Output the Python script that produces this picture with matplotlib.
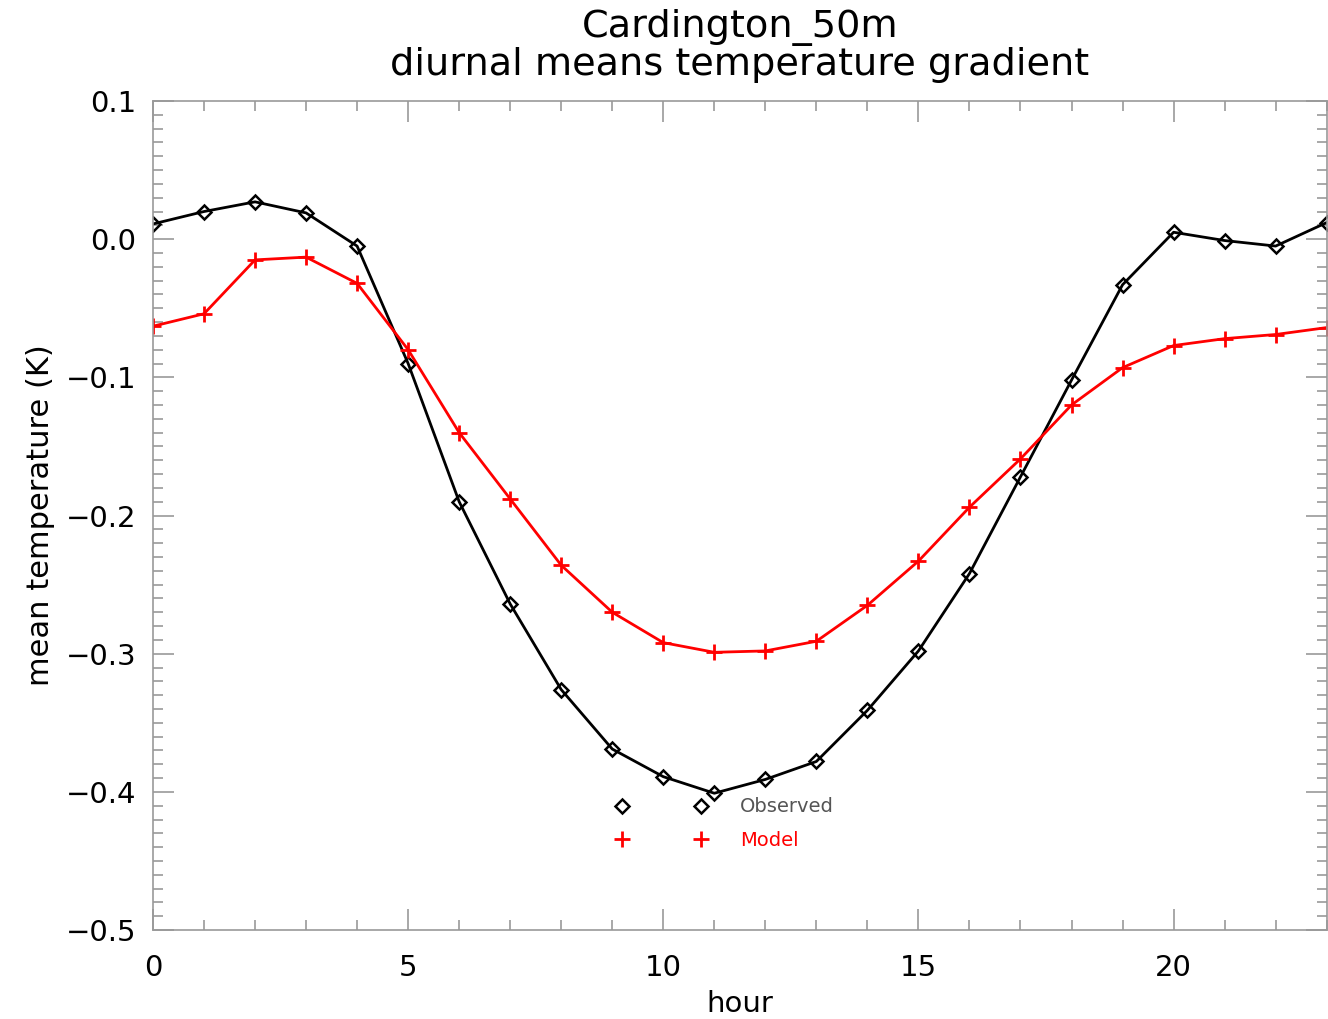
import matplotlib
matplotlib.use('Agg')
import matplotlib.pyplot as plt
from matplotlib.lines import Line2D
from matplotlib.ticker import MultipleLocator

hours = list(range(24))
observed = [0.011, 0.020, 0.027, 0.019, -0.005, -0.090, -0.190, -0.264, -0.326, -0.369,
            -0.389, -0.401, -0.391, -0.378, -0.341, -0.298, -0.242, -0.172, -0.102, -0.033,
            0.005, -0.001, -0.005, 0.012]
model = [-0.063, -0.054, -0.015, -0.013, -0.032, -0.080, -0.140, -0.188, -0.236, -0.270,
         -0.292, -0.299, -0.298, -0.291, -0.265, -0.233, -0.194, -0.159, -0.120, -0.093,
         -0.077, -0.072, -0.069, -0.064]
ytick_vals = [0.1, 0.0, -0.1, -0.2, -0.3, -0.4, -0.5]
ytick_text = ['0.1', '0.0', '\u22120.1', '\u22120.2', '\u22120.3', '\u22120.4', '\u22120.5']

plt.rcParams['font.family'] = ['DejaVu Sans']

fig = plt.figure(figsize=(13.28, 10.19), dpi=100)
ax = fig.add_axes([0.1152, 0.0873, 0.8838, 0.8136])

ax.plot(hours, observed, color='black', lw=2, marker='D', ms=7, mfc='none', mew=1.8)
ax.plot(hours, model, color='red', lw=2, marker='+', ms=11, mew=2)

ax.set_xlim(0, 23)
ax.set_ylim(-0.5, 0.1)
ax.xaxis.set_major_locator(MultipleLocator(5))
ax.xaxis.set_minor_locator(MultipleLocator(1))
ax.yaxis.set_minor_locator(MultipleLocator(0.01))
ax.set_yticks(ytick_vals)
ax.set_yticklabels(ytick_text)

ax.tick_params(which='both', direction='in', top=True, right=True, color='#999999',
               labelsize=21)
ax.tick_params(axis='x', pad=17)
ax.tick_params(axis='y', pad=12)
ax.tick_params(which='major', length=15, width=1.2)
ax.tick_params(which='minor', length=7, width=1.2)
for s in ax.spines.values():
    s.set_color('#999999')
    s.set_linewidth(1.2)

ax.set_xlabel('hour', fontsize=21, labelpad=6)
ax.set_ylabel('mean temperature (K)', fontsize=22, labelpad=8)
ax.set_title('Cardington_50m\ndiurnal means temperature gradient', fontsize=27.5,
             pad=18.5, linespacing=1.03)

handles = [Line2D([], [], color='black', ls='none', marker='D', ms=7, mfc='none', mew=1.8),
           Line2D([], [], color='red', ls='none', marker='+', ms=11, mew=2)]
leg = ax.legend(handles, ['Observed', 'Model'], loc='upper left',
                bbox_to_anchor=(0.38, 0.181), frameon=False, numpoints=2,
                handlelength=4.67, fontsize=14, labelspacing=0.75, handletextpad=1.69)
leg.get_texts()[0].set_color('#555555')
leg.get_texts()[1].set_color('red')

fig.savefig('out.png', dpi=100)
